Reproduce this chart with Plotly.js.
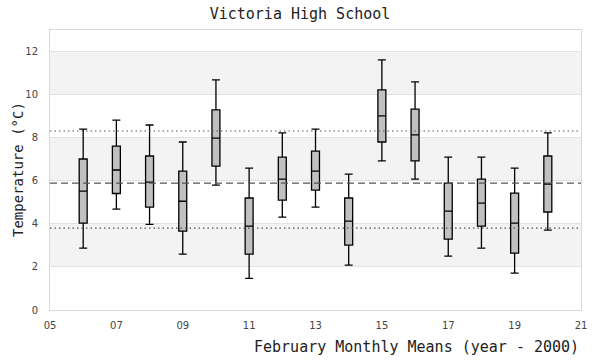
<!DOCTYPE html>
<html>
<head>
<meta charset="utf-8">
<script src="https://cdn.plot.ly/plotly-3.0.1.min.js"></script>
<style>html,body{margin:0;padding:0;background:#fff;}#chart{width:600px;height:360px;}</style>
</head>
<body>
<div id="chart"></div>
<script>
// Years (minus 2000) and box statistics (°C)
const years = [6, 7, 8, 9, 10, 11, 12, 13, 14, 15, 16, 17, 18, 19, 20];
const upperWhisker = [8.40, 8.82, 8.59, 7.80, 10.68, 6.59, 8.22, 8.40, 6.31, 11.61, 10.59, 7.10, 7.10, 6.59, 8.22];
const q3Values     = [7.01, 7.61, 7.15, 6.45, 9.29, 5.20, 7.10, 7.38, 5.20, 10.22, 9.33, 5.89, 6.08, 5.43, 7.15];
const medianValues = [5.52, 6.50, 5.94, 5.05, 7.98, 3.89, 6.08, 6.45, 4.13, 9.01, 8.13, 4.59, 4.96, 4.03, 5.85];
const q1Values     = [4.03, 5.41, 4.78, 3.66, 6.68, 2.59, 5.10, 5.57, 3.01, 7.80, 6.92, 3.29, 3.89, 2.64, 4.55];
const lowerWhisker = [2.87, 4.68, 3.98, 2.59, 5.80, 1.47, 4.31, 4.78, 2.08, 6.92, 6.08, 2.50, 2.87, 1.71, 3.71];

// Reference lines: overall mean and upper / lower bounds
const meanLine = 5.89;
const upperLine = 8.31;
const lowerLine = 3.80;

// Axis ticks
const xTickVals = [5, 7, 9, 11, 13, 15, 17, 19, 21];
const xTickText = ['05', '07', '09', '11', '13', '15', '17', '19', '21'];
const yTickVals = [0, 2, 4, 6, 8, 10, 12];
const shadedBands = [[2, 4], [6, 8], [10, 12]];

const mono = 'DejaVu Sans Mono, monospace';

const trace = {
  type: 'box',
  x: years,
  q1: q1Values,
  median: medianValues,
  q3: q3Values,
  lowerfence: lowerWhisker,
  upperfence: upperWhisker,
  boxpoints: false,
  width: 0.24,
  whiskerwidth: 1,
  fillcolor: '#c0c0c0',
  line: {color: '#000000', width: 1.3},
  hoverinfo: 'skip',
  showlegend: false
};

const shapes = [];
shadedBands.forEach(b => shapes.push({
  type: 'rect', xref: 'paper', yref: 'y', x0: 0, x1: 1, y0: b[0], y1: b[1],
  fillcolor: '#f3f3f3', line: {width: 0}, layer: 'below'
}));
shapes.push({type: 'line', xref: 'paper', yref: 'y', x0: 0, x1: 1, y0: upperLine, y1: upperLine,
  line: {color: '#555555', width: 1.2, dash: '1.5px,3px'}});
shapes.push({type: 'line', xref: 'paper', yref: 'y', x0: 0, x1: 1, y0: meanLine, y1: meanLine,
  line: {color: '#555555', width: 1.2, dash: '7px,4px'}});
shapes.push({type: 'line', xref: 'paper', yref: 'y', x0: 0, x1: 1, y0: lowerLine, y1: lowerLine,
  line: {color: '#555555', width: 1.2, dash: '1.5px,3px'}});

const layout = {
  width: 600, height: 360,
  margin: {l: 50, r: 19, t: 30, b: 50},
  paper_bgcolor: '#ffffff',
  plot_bgcolor: 'rgba(0,0,0,0)',
  title: {text: 'Victoria High School', x: 0.5, xanchor: 'center', y: 0.962, yanchor: 'middle',
    font: {family: mono, size: 15, color: '#222222'}},
  xaxis: {
    range: [5, 21], tickvals: xTickVals, ticktext: xTickText,
    showgrid: false, zeroline: false, showline: true, mirror: true,
    linecolor: '#d9d9d9', linewidth: 1, ticks: '', ticklabelstandoff: 6,
    tickfont: {family: 'DejaVu Sans, sans-serif', size: 10, color: '#444444'}
  },
  yaxis: {
    range: [0, 13], tickvals: yTickVals,
    showgrid: true, gridcolor: '#e2e2e2', gridwidth: 1,
    zeroline: false, showline: true, mirror: true,
    linecolor: '#d9d9d9', linewidth: 1, ticks: '', ticklabelstandoff: 9,
    tickfont: {family: 'DejaVu Sans, sans-serif', size: 10, color: '#444444'}
  },
  shapes: shapes,
  annotations: [{
    text: 'February Monthly Means (year - 2000)', xref: 'paper', yref: 'paper',
    x: 1, y: 0, xanchor: 'right', yanchor: 'middle', yshift: -37, showarrow: false,
    font: {family: mono, size: 15, color: '#222222'}
  }, {
    text: 'Temperature (°C)', xref: 'paper', yref: 'paper', textangle: -90,
    x: 0, y: 0.5, xanchor: 'center', yanchor: 'middle', xshift: -32, showarrow: false,
    font: {family: mono, size: 14, color: '#222222'}
  }]
};

Plotly.newPlot('chart', [trace], layout, {staticPlot: true, displayModeBar: false});
</script>
</body>
</html>
